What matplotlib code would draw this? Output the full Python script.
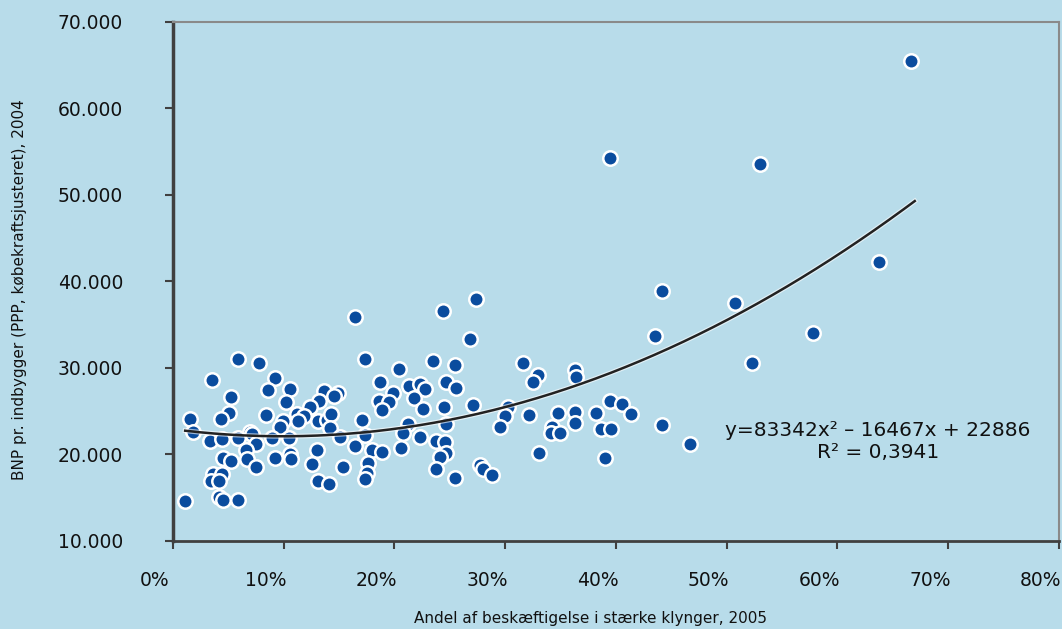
import matplotlib
matplotlib.use("Agg")
import matplotlib.pyplot as plt
import matplotlib.transforms as mtransforms
import numpy as np

# andel af beskæftigelse i stærke klynger (%), BNP pr. indbygger
andel = [5.9, 7.8, 3.5, 9.2, 8.6, 10.6, 5.2, 10.2, 13.6, 14.9, 14.5, 13.2, 12.4,
         5.1, 4.3, 1.5, 8.4, 11.2, 11.8, 9.9, 9.7, 11.3, 13.1, 13.9, 14.3, 14.2,
         1.8, 7.0, 7.1, 3.3, 4.4, 5.9, 7.5, 8.9, 10.5, 15.1, 6.6, 13.0, 4.5, 5.2,
         6.7, 9.2, 10.6, 10.7, 12.6, 15.4, 7.5, 3.6, 4.4, 3.4, 4.2, 13.1, 14.1,
         4.2, 4.5, 5.9, 1.1,
         16.4, 27.4, 24.4, 26.8, 17.3, 23.5, 25.5, 20.4, 18.7, 19.9, 21.3, 22.3,
         22.8, 21.8, 24.7, 25.6, 18.6, 19.5, 18.9, 22.6, 24.5, 27.1, 17.1, 21.2,
         24.7, 30.3, 30.0, 29.5, 16.4, 17.3, 20.8, 22.3, 18.0, 18.9, 20.6, 23.8,
         24.6, 24.7, 24.1, 17.6, 17.5, 17.3, 23.8, 27.7, 28.0, 28.8, 25.5,
         31.6, 44.2, 43.5, 33.0, 32.5, 36.3, 36.4, 32.2, 34.8, 36.3, 36.3, 34.2,
         34.1, 35.0, 38.2, 39.5, 40.6, 41.4, 38.7, 39.6, 44.2, 46.7, 33.1, 39.0,
         66.7, 53.0, 63.8, 50.8, 57.8, 52.3, 39.5]
bnp = [31000, 30600, 28600, 28800, 27400, 27500, 26600, 26000, 27300, 27100, 26700,
       26100, 25500, 24800, 24100, 24100, 24500, 24700, 24400, 23800, 23200, 23800,
       23800, 24000, 24600, 23000, 22600, 22600, 22300, 21500, 21700, 21900, 21200,
       21900, 21900, 22000, 20500, 20500, 19600, 19200, 19400, 19600, 20000, 19400,
       18900, 18500, 18500, 17700, 17700, 16900, 16900, 16900, 16500, 15100, 14700,
       14700, 14600,
       35900, 37900, 36600, 33300, 31000, 30800, 30300, 29800, 28300, 27100, 27900,
       28100, 27500, 26500, 28300, 27700, 26100, 26000, 25100, 25200, 25500, 25700,
       24000, 23500, 23500, 25500, 24400, 23200, 20900, 22200, 22500, 22000, 20500,
       20200, 20700, 21500, 21400, 20100, 19700, 19000, 17800, 17100, 18300, 18800,
       18300, 17600, 17200,
       30600, 38900, 33700, 29100, 28400, 29700, 28900, 24500, 24800, 24900, 23600,
       23200, 22500, 22400, 24800, 26100, 25800, 24600, 22900, 22900, 23400, 21200,
       20100, 19600,
       65400, 53600, 42200, 37500, 34000, 30500, 54300]

# trendlinje (fra diagrammet)
koef = [83342, -16467, 22886]
trend_fra, trend_til = 0.011, 0.67

x_ticks = [0, 10, 20, 30, 40, 50, 60, 70, 80]
y_ticks = [10000, 20000, 30000, 40000, 50000, 60000, 70000]

bg = "#b8dcea"
prik = "#0a4c9e"

fig = plt.figure(figsize=(10.62, 6.29), dpi=100, facecolor=bg)
ax = fig.add_axes([173 / 1062, 1 - 540.7 / 629, (1058.7 - 173) / 1062, (540.7 - 21.7) / 629])
ax.set_facecolor(bg)

ax.scatter(andel, bnp, s=108, color=prik, edgecolors="white", linewidths=1.8, zorder=3)

xs = np.linspace(trend_fra, trend_til, 200)
ax.plot(xs * 100, np.polyval(koef, xs), color="white", lw=3.5, alpha=0.6, zorder=4)
ax.plot(xs * 100, np.polyval(koef, xs), color="#222222", lw=1.8, zorder=4)

ax.set_xlim(0, 80)
ax.set_ylim(10000, 70000)
ax.set_xticks(x_ticks)
ax.set_xticklabels([f"{v}%" for v in x_ticks])
ax.set_yticks(y_ticks)
ax.set_yticklabels([f"{v // 1000}.000" for v in y_ticks])

ax.tick_params(axis="x", length=6, width=1.5, color="#404040", pad=16,
               labelsize=13.5, labelcolor="#111111")
ax.tick_params(axis="y", length=6, width=1.5, color="#404040", pad=30,
               labelsize=13.5, labelcolor="#111111")

# x-etiketterne står lidt til venstre for deres streger
skift = mtransforms.ScaledTranslation(-18 / 100, 0, fig.dpi_scale_trans)
for lbl in ax.get_xticklabels():
    lbl.set_transform(lbl.get_transform() + skift)

ax.spines["left"].set_color("#404040")
ax.spines["left"].set_linewidth(2.5)
ax.spines["bottom"].set_color("#404040")
ax.spines["bottom"].set_linewidth(2)
for s in ["top", "right"]:
    ax.spines[s].set_color("#8a8a8a")
    ax.spines[s].set_linewidth(1.5)

ax.text((878 - 173) / 885.7, (540.7 - 442) / 519, "y=83342x\u00b2 \u2013 16467x + 22886\nR\u00b2 = 0,3941",
        transform=ax.transAxes, ha="center", va="center", fontsize=14.5,
        color="#111111", linespacing=1.2)

fig.text(590 / 1062, 1 - 619 / 629, "Andel af beskæftigelse i stærke klynger, 2005",
         ha="center", va="center", fontsize=11, color="#111111")
fig.text(20 / 1062, 1 - 290 / 629, "BNP pr. indbygger (PPP, købekraftsjusteret), 2004",
         ha="center", va="center", rotation=90, fontsize=11, color="#111111")

fig.savefig("out.png", dpi=100, facecolor=bg)
